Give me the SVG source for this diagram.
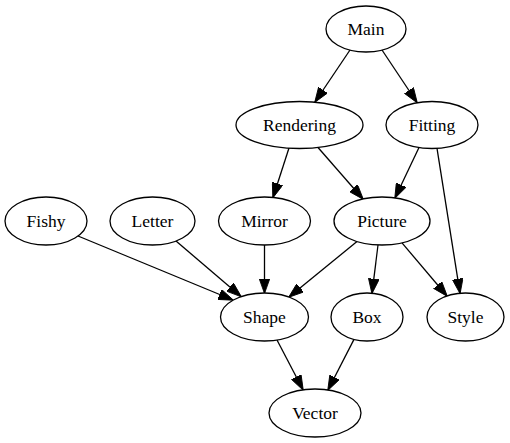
<svg xmlns="http://www.w3.org/2000/svg" width="510" height="443" viewBox="0 0 510 443">
<style>
.n ellipse{fill:#fff;stroke:#000;stroke-width:1.3}
.n text{font-family:"Liberation Serif","Times New Roman",serif;font-size:17.5px;text-anchor:middle;fill:#000}
.e line{stroke:#000;stroke-width:1.3;marker-end:url(#ah)}
</style>
<defs>
<marker id="ah" markerUnits="userSpaceOnUse" markerWidth="15" markerHeight="11" viewBox="0 0 14 10" refX="13.5" refY="5" orient="auto">
<path d="M0,0 L14,5 L0,10 Z" fill="#000" stroke="#000" stroke-width="0.8"/>
</marker>
</defs>
<rect width="510" height="443" fill="#fff"/>
<g id="edges" class="e">
<line x1="350" y1="50" x2="315" y2="102"/>
<line x1="382" y1="50" x2="417" y2="102.5"/>
<line x1="289" y1="148" x2="273" y2="197.5"/>
<line x1="318" y1="147.5" x2="363" y2="199"/>
<line x1="419" y1="147.5" x2="395" y2="198"/>
<line x1="437" y1="148.3" x2="460" y2="293.2"/>
<line x1="78" y1="236" x2="233" y2="300"/>
<line x1="176" y1="241" x2="241" y2="296.5"/>
<line x1="264.5" y1="245" x2="264.5" y2="293"/>
<line x1="357" y1="241.5" x2="289" y2="297"/>
<line x1="378" y1="245" x2="372" y2="293.2"/>
<line x1="402" y1="242.8" x2="447" y2="296"/>
<line x1="277" y1="340" x2="303" y2="389.8"/>
<line x1="354" y1="339.4" x2="328" y2="390"/>
</g>
<g id="Main" class="n"><ellipse cx="366" cy="29" rx="40" ry="23"/><text x="366" y="35">Main</text></g>
<g id="Rendering" class="n"><ellipse cx="299.5" cy="125" rx="63.5" ry="23.5"/><text x="299.5" y="131">Rendering</text></g>
<g id="Fitting" class="n"><ellipse cx="432" cy="125" rx="46" ry="23.5"/><text x="432" y="131">Fitting</text></g>
<g id="Fishy" class="n"><ellipse cx="46" cy="221" rx="41" ry="24"/><text x="46" y="227">Fishy</text></g>
<g id="Letter" class="n"><ellipse cx="152.5" cy="221" rx="42.5" ry="24"/><text x="152.5" y="227">Letter</text></g>
<g id="Mirror" class="n"><ellipse cx="264.5" cy="221" rx="46" ry="24"/><text x="264.5" y="227">Mirror</text></g>
<g id="Picture" class="n"><ellipse cx="382" cy="221" rx="48" ry="24"/><text x="382" y="227">Picture</text></g>
<g id="Shape" class="n"><ellipse cx="264.5" cy="317" rx="44" ry="24"/><text x="264.5" y="323">Shape</text></g>
<g id="Box" class="n"><ellipse cx="367" cy="317" rx="36" ry="24"/><text x="367" y="323">Box</text></g>
<g id="Style" class="n"><ellipse cx="465.5" cy="317" rx="38.5" ry="24"/><text x="465.5" y="323">Style</text></g>
<g id="Vector" class="n"><ellipse cx="315" cy="413" rx="46" ry="24"/><text x="315" y="419">Vector</text></g>
</svg>
